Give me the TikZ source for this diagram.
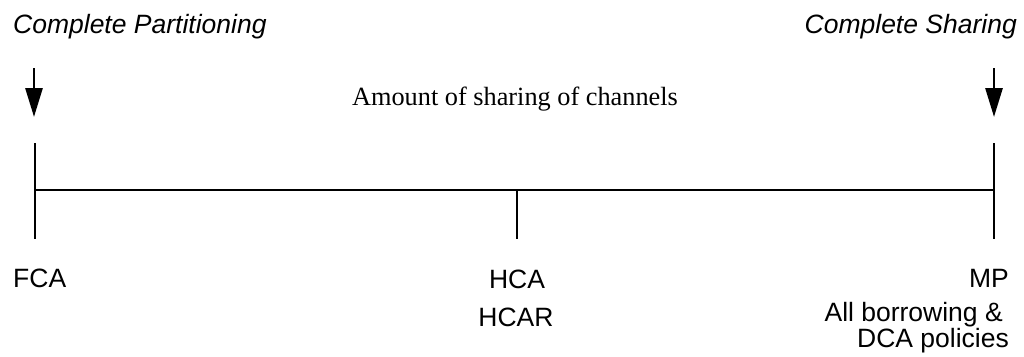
\documentclass[tikz,border=0pt]{standalone}
\usepackage{fontspec}
\setmainfont{Liberation Serif}
\setsansfont{Liberation Sans}
\usetikzlibrary{arrows.meta}
\begin{document}
\begin{tikzpicture}[x=1pt,y=-1pt,
  lbl/.style={inner sep=0pt,font=\sffamily\fontsize{26.5}{28}\selectfont},
  ilbl/.style={inner sep=0pt,font=\sffamily\itshape\fontsize{26.5}{28}\selectfont},
  slbl/.style={inner sep=0pt,font=\rmfamily\fontsize{26.3}{28}\selectfont},
  axis/.style={line width=2.8pt},
  pointer/.style={line width=2.8pt,-{Triangle[length=29pt,width=17pt]}}]
\useasboundingbox (0,0) rectangle (1024,356);
% titles
\node[ilbl,anchor=base west] (cp) at (13,33) {Complete Partitioning};
\node[ilbl,anchor=base east] (cs) at (1017,33) {Complete Sharing};
\node[slbl,anchor=base] (amt) at (515,105) {Amount of sharing of channels};
% arrows
\coordinate (la) at (34,68);
\coordinate (lt) at (34,117);
\coordinate (ra) at (994,68);
\coordinate (rt) at (994,117);
\draw[pointer] (la) -- (lt);
\draw[pointer] (ra) -- (rt);
% axis
\coordinate (l1) at (35,143);
\coordinate (l2) at (35,239);
\coordinate (r1) at (994,143);
\coordinate (r2) at (994,239);
\coordinate (lm) at (35,190);
\coordinate (rm) at (994,190);
\coordinate (m1) at (517,190);
\coordinate (m2) at (517,239);
\draw[axis] (l1) -- (l2);
\draw[axis] (r1) -- (r2);
\draw[axis] (lm) -- (rm);
\draw[axis] (m1) -- (m2);
% labels
\node[lbl,anchor=base west] (fca) at (13,287) {FCA};
\node[lbl,anchor=base] (hca) at (517,288) {HCA};
\node[lbl,anchor=base] (hcar) at (516,326) {HCAR};
\node[lbl,anchor=base east] (mp) at (1009,287) {MP};
\node[lbl,anchor=base east] (ab) at (1003,321) {All borrowing \&};
\node[lbl,anchor=base east] (dca) at (1009,347) {DCA policies};
\end{tikzpicture}
\end{document}
